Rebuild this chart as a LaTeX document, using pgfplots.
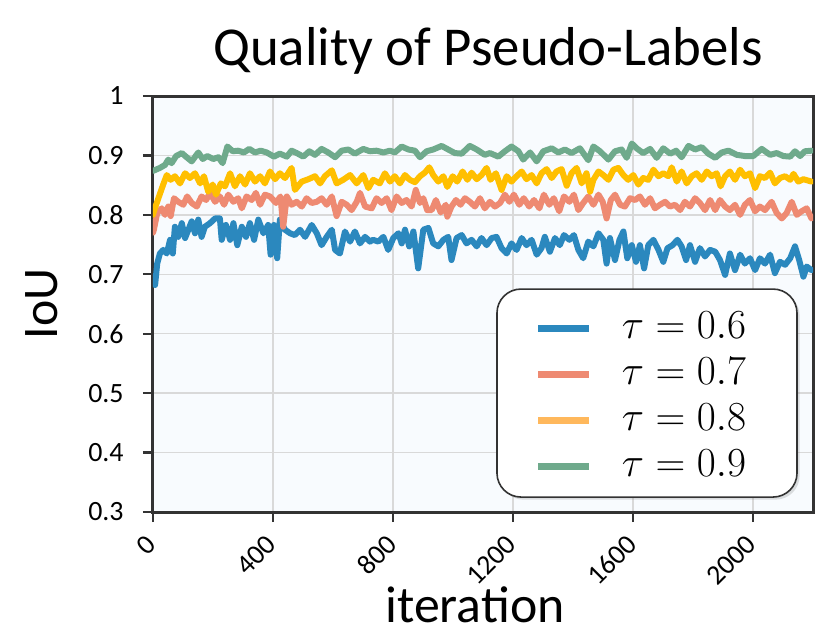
\documentclass[border=0pt]{standalone}
\usepackage{fontspec}
\setmainfont{Carlito}
\usepackage{pgfplots}
\pgfplotsset{compat=1.18}
\usepackage{pgfplotstable}
\usetikzlibrary{shadows}
\makeatletter
\tikzset{noshadow/.code={\let\tikz@preactions\pgfutil@empty}}
\makeatother
\definecolor{cblue}{HTML}{2B88BE}
\definecolor{csalmon}{HTML}{EE8A72}
\definecolor{cgold}{HTML}{FFBF00}
\definecolor{cgoldleg}{HTML}{FFB85C}
\definecolor{cgreen}{HTML}{6FAA8C}
\definecolor{axisgray}{HTML}{333333}
\definecolor{gridgray}{HTML}{D9D9D9}
\definecolor{bgblue}{HTML}{F8FBFE}

\pgfplotstableread{
it v
0 0.695
7 0.682
14 0.718
23 0.735
34 0.741
46 0.735
57 0.758
66 0.735
73 0.780
84 0.763
96 0.786
107 0.761
118 0.775
129 0.789
140 0.769
151 0.792
162 0.763
173 0.780
190 0.786
207 0.794
223 0.794
229 0.758
243 0.783
257 0.758
268 0.786
281 0.749
296 0.780
310 0.763
323 0.786
337 0.758
351 0.792
368 0.769
384 0.783
392 0.733
403 0.783
414 0.727
423 0.792
440 0.775
457 0.769
473 0.766
490 0.775
507 0.763
529 0.783
546 0.769
562 0.749
579 0.763
596 0.775
607 0.741
623 0.735
640 0.772
657 0.755
673 0.772
690 0.752
707 0.763
723 0.755
734 0.758
751 0.755
768 0.763
784 0.741
801 0.761
818 0.769
829 0.752
840 0.775
854 0.747
868 0.772
884 0.710
901 0.775
918 0.778
934 0.752
951 0.747
968 0.758
984 0.763
995 0.724
1012 0.761
1029 0.766
1045 0.752
1062 0.758
1079 0.747
1095 0.761
1112 0.749
1129 0.761
1145 0.763
1162 0.744
1179 0.735
1195 0.752
1212 0.741
1229 0.761
1245 0.749
1262 0.758
1279 0.733
1295 0.744
1306 0.763
1323 0.738
1340 0.761
1356 0.749
1370 0.766
1388 0.758
1403 0.766
1418 0.741
1434 0.727
1451 0.755
1468 0.747
1485 0.769
1501 0.758
1512 0.718
1523 0.761
1540 0.724
1555 0.758
1568 0.772
1581 0.727
1596 0.749
1610 0.721
1623 0.749
1637 0.710
1651 0.749
1668 0.758
1685 0.741
1701 0.721
1715 0.744
1732 0.749
1748 0.758
1762 0.747
1777 0.724
1790 0.749
1807 0.721
1823 0.744
1840 0.730
1857 0.741
1874 0.738
1890 0.724
1907 0.699
1923 0.735
1940 0.707
1957 0.733
1973 0.718
1990 0.727
2007 0.707
2023 0.727
2040 0.718
2057 0.733
2073 0.702
2090 0.721
2107 0.716
2124 0.727
2140 0.747
2154 0.724
2168 0.696
2179 0.713
2195 0.707
}\tauA

\pgfplotstableread{
it v
0 0.770
3 0.775
14 0.803
29 0.811
40 0.800
51 0.814
59 0.798
70 0.828
84 0.822
101 0.817
114 0.831
129 0.820
146 0.814
162 0.831
177 0.825
190 0.837
207 0.822
223 0.831
237 0.817
251 0.834
268 0.822
284 0.828
296 0.811
312 0.831
329 0.825
343 0.837
357 0.817
373 0.834
390 0.831
410 0.820
425 0.831
434 0.780
446 0.831
462 0.817
479 0.822
496 0.814
512 0.828
529 0.820
546 0.822
562 0.828
579 0.817
596 0.831
612 0.798
629 0.822
646 0.817
662 0.808
679 0.822
690 0.837
707 0.814
729 0.811
745 0.828
762 0.820
779 0.828
795 0.808
812 0.831
829 0.820
845 0.825
862 0.814
876 0.842
890 0.820
901 0.828
914 0.808
929 0.808
943 0.825
959 0.804
976 0.817
981 0.797
995 0.814
1010 0.825
1025 0.817
1040 0.828
1056 0.822
1073 0.814
1090 0.828
1106 0.811
1123 0.822
1140 0.814
1157 0.820
1173 0.834
1188 0.822
1203 0.834
1221 0.817
1236 0.828
1254 0.814
1270 0.825
1288 0.811
1303 0.834
1321 0.817
1336 0.828
1354 0.806
1370 0.831
1388 0.822
1403 0.834
1418 0.808
1434 0.820
1451 0.831
1468 0.817
1485 0.834
1499 0.822
1512 0.794
1526 0.825
1540 0.834
1557 0.817
1573 0.814
1590 0.828
1607 0.825
1623 0.831
1640 0.817
1657 0.828
1673 0.811
1690 0.817
1707 0.822
1723 0.814
1740 0.817
1757 0.808
1773 0.822
1790 0.814
1807 0.828
1823 0.820
1840 0.808
1857 0.825
1874 0.808
1890 0.825
1907 0.814
1923 0.808
1940 0.817
1957 0.800
1973 0.817
1990 0.825
2007 0.806
2023 0.814
2040 0.808
2062 0.822
2079 0.803
2096 0.794
2112 0.803
2129 0.822
2146 0.800
2162 0.806
2179 0.811
2195 0.794
}\tauB

\pgfplotstableread{
it v
0 0.800
3 0.806
18 0.828
34 0.851
46 0.867
59 0.859
73 0.865
90 0.853
107 0.870
123 0.862
140 0.870
157 0.853
170 0.865
184 0.839
199 0.851
210 0.834
226 0.853
240 0.848
257 0.870
273 0.848
290 0.865
307 0.851
323 0.870
340 0.856
357 0.865
373 0.853
390 0.873
407 0.860
423 0.870
440 0.862
462 0.879
473 0.842
496 0.856
518 0.860
540 0.865
557 0.853
573 0.865
596 0.875
612 0.853
634 0.859
657 0.867
679 0.853
701 0.867
718 0.845
734 0.859
756 0.853
773 0.870
790 0.856
806 0.865
823 0.853
840 0.867
856 0.859
873 0.855
890 0.865
906 0.871
921 0.880
934 0.867
951 0.856
968 0.865
981 0.847
999 0.865
1014 0.856
1032 0.873
1048 0.859
1062 0.871
1079 0.860
1095 0.867
1112 0.879
1125 0.859
1143 0.870
1162 0.842
1179 0.865
1195 0.856
1212 0.865
1229 0.873
1245 0.860
1262 0.867
1279 0.853
1295 0.870
1312 0.877
1329 0.862
1345 0.873
1362 0.877
1379 0.849
1395 0.870
1412 0.879
1429 0.853
1445 0.870
1457 0.839
1468 0.859
1485 0.873
1501 0.867
1518 0.859
1535 0.876
1551 0.879
1568 0.867
1584 0.859
1601 0.867
1618 0.851
1634 0.862
1651 0.859
1668 0.876
1685 0.865
1701 0.870
1718 0.865
1729 0.880
1746 0.856
1762 0.873
1779 0.853
1796 0.865
1812 0.870
1829 0.859
1846 0.873
1862 0.865
1879 0.870
1892 0.848
1907 0.865
1923 0.873
1940 0.859
1957 0.876
1973 0.865
1990 0.870
2007 0.845
2023 0.865
2040 0.862
2057 0.871
2073 0.853
2090 0.862
2107 0.865
2124 0.859
2135 0.869
2151 0.856
2168 0.860
2195 0.856
}\tauC

\pgfplotstableread{
it v
0 0.874
23 0.879
40 0.884
51 0.893
62 0.887
77 0.899
96 0.904
112 0.897
129 0.890
151 0.905
166 0.894
181 0.899
201 0.894
218 0.897
232 0.887
248 0.915
266 0.907
284 0.908
303 0.905
321 0.911
340 0.905
359 0.908
379 0.905
403 0.898
423 0.903
446 0.898
462 0.908
479 0.904
501 0.898
521 0.907
540 0.901
562 0.911
584 0.905
607 0.897
629 0.908
651 0.910
673 0.903
701 0.911
723 0.907
745 0.908
768 0.905
790 0.908
806 0.905
829 0.915
851 0.910
873 0.908
890 0.897
912 0.907
934 0.910
962 0.916
984 0.910
1006 0.904
1029 0.903
1056 0.916
1079 0.910
1106 0.901
1123 0.904
1151 0.898
1173 0.907
1195 0.915
1218 0.907
1234 0.893
1257 0.905
1279 0.890
1301 0.907
1329 0.912
1351 0.905
1373 0.910
1395 0.904
1423 0.912
1451 0.892
1468 0.915
1490 0.907
1518 0.893
1540 0.907
1562 0.910
1579 0.896
1596 0.920
1612 0.912
1634 0.904
1657 0.911
1679 0.896
1701 0.912
1724 0.903
1744 0.908
1762 0.897
1785 0.916
1807 0.910
1829 0.914
1851 0.903
1874 0.896
1896 0.905
1918 0.908
1946 0.901
1973 0.899
2001 0.899
2029 0.911
2057 0.901
2079 0.904
2101 0.899
2124 0.898
2140 0.907
2157 0.899
2173 0.907
2195 0.908
}\tauD

\begin{document}
\begin{tikzpicture}
\begin{axis}[
  at={(0,0)}, anchor=south west,
  scale only axis, width=330bp, height=208bp,
  xmin=0, xmax=2200, ymin=0.3, ymax=1,
  xtick={0,400,800,1200,1600,2000},
  ytick={0.3,0.4,0.5,0.6,0.7,0.8,0.9,1},
  scaled ticks=false,
  /pgf/number format/.cd, 1000 sep={}, assume math mode=true, fixed, precision=1,
  /pgfplots/.cd,
  tick align=outside, major tick length=5bp,
  xtick pos=bottom, ytick pos=left,
  axis line style={draw=axisgray, line width=1.5bp},
  every tick/.style={draw=axisgray, line width=1.2bp},
  grid=major,
  major grid style={draw=gridgray, line width=0.75bp},
  axis background/.style={fill=bgblue},
  tick label style={font=\fontsize{14}{16}\selectfont},
  yticklabel style={anchor=east, inner sep=0pt, xshift=-9.5bp},
  xticklabel style={xshift=-0.65bp, yshift=-9bp, rotate=45, anchor=east, inner sep=0pt},
  every axis title shift=0pt,
  title={Quality of Pseudo-Labels},
  title style={font=\fontsize{27.5}{30}\selectfont, at={(axis description cs:0.5,1)}, anchor=base, yshift=15.5bp, xshift=2.5bp},
  xlabel={iteration},
  xlabel style={font=\fontsize{26}{30}\selectfont, at={(axis description cs:0.5,0)}, anchor=base, yshift=-55bp, xshift=-4bp},
  ylabel={IoU},
  ylabel style={font=\fontsize{25}{30}\selectfont, at={(axis description cs:0,0.5)}, anchor=center, yshift=55.75bp},
  legend cell align=left,
  legend image code/.code={\draw[noshadow, #1, line width=3.5bp, line cap=butt] (0bp,-2.2bp) -- (25.5bp,-2.2bp);},
  legend style={at={(rel axis cs:0.977,0.034)}, anchor=south east,
    draw=axisgray, line width=0.8bp, rounded corners=12bp, fill=white,
    drop shadow={shadow xshift=1.3bp, shadow yshift=-1.3bp, opacity=0.25},
    font=\fontsize{20.74}{24}\selectfont,
    inner xsep=19bp, inner ysep=10.5bp, row sep=9bp, column sep=14.5bp,
    nodes={noshadow, inner sep=0pt, text height=14bp, text depth=0bp}},
  every axis plot/.append style={line width=3bp, line join=round, line cap=round},
]
\addplot[cblue, forget plot] table[x=it, y=v] {\tauA};
\addplot[csalmon, forget plot] table[x=it, y=v] {\tauB};
\addplot[cgold, forget plot] table[x=it, y=v] {\tauC};
\addplot[cgreen, forget plot] table[x=it, y=v] {\tauD};
\addlegendimage{cblue}
\addlegendentry{$\tau = 0.6$\rule{6.5bp}{0pt}}
\addlegendimage{csalmon}
\addlegendentry{$\tau = 0.7$\rule{6.5bp}{0pt}}
\addlegendimage{cgoldleg}
\addlegendentry{$\tau = 0.8$\rule{6.5bp}{0pt}}
\addlegendimage{cgreen}
\addlegendentry{$\tau = 0.9$\rule{6.5bp}{0pt}}
\end{axis}
\pgfresetboundingbox
\path (-76.5bp,-63bp) rectangle (338bp,256bp);
\end{tikzpicture}
\end{document}
